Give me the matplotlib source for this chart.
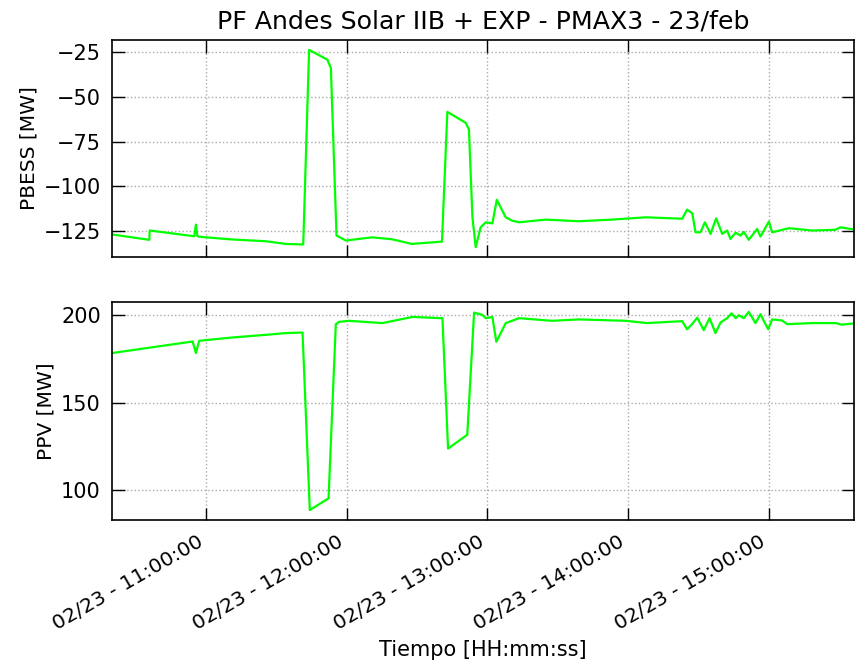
import numpy as np
import pandas as pd
import matplotlib
matplotlib.use("Agg")
import matplotlib.pyplot as plt
import matplotlib.dates as mdates

day = "2023-02-23 "

# PBESS [MW]
t_bess = ["10:19:48", "10:35:42", "10:35:54", "10:54:54", "10:55:36", "10:56:12", "10:57:00",
          "11:11:06", "11:25:30", "11:34:00", "11:41:24", "11:43:54", "11:51:42", "11:53:12",
          "11:55:36", "11:59:36", "12:10:48", "12:19:18", "12:27:48", "12:40:36", "12:42:54",
          "12:50:42", "12:52:06", "12:53:36", "12:55:00", "12:57:06", "12:59:18", "13:02:06",
          "13:04:00", "13:07:48", "13:10:36", "13:13:30", "13:24:48", "13:39:00", "13:53:06",
          "14:07:30", "14:23:06", "14:25:12", "14:27:24", "14:28:48", "14:30:54", "14:32:48",
          "14:35:12", "14:37:36", "14:40:12", "14:42:18", "14:43:42", "14:45:54", "14:48:00",
          "14:49:24", "14:51:30", "14:55:06", "14:56:30", "15:00:06", "15:01:30", "15:08:36",
          "15:18:30", "15:28:30", "15:30:36", "15:36:18"]
pbess = [-127.0, -130.0, -124.8, -128.0, -121.5, -127.8, -128.3,
         -129.8, -130.8, -132.3, -132.6, -23.7, -29.2, -33.9,
         -127.6, -130.4, -128.6, -129.7, -132.3, -131.0, -58.4,
         -64.5, -68.2, -117.4, -134.1, -123.0, -120.2, -120.8,
         -107.6, -117.4, -119.3, -120.2, -118.7, -119.6, -118.7,
         -117.4, -118.2, -113.1, -115.2, -125.8, -125.8, -120.2,
         -126.7, -118.0, -126.7, -124.8, -129.5, -126.0, -127.6,
         -125.6, -130.0, -123.9, -128.2, -119.8, -125.8, -123.5,
         -124.8, -124.4, -123.0, -124.2]

# PPV [MW]
t_pv = ["10:19:48", "10:54:12", "10:55:36", "10:57:00", "11:11:12", "11:25:30", "11:34:00",
        "11:41:06", "11:44:12", "11:52:12", "11:55:18", "11:56:42", "12:01:00", "12:15:12",
        "12:28:00", "12:40:48", "12:43:12", "12:51:24", "12:54:18", "12:57:48", "12:59:18",
        "13:02:06", "13:03:48", "13:07:48", "13:13:30", "13:27:42", "13:39:00", "13:59:00",
        "14:08:12", "14:20:18", "14:23:06", "14:25:12", "14:27:24", "14:29:30", "14:32:18",
        "14:34:48", "14:37:18", "14:39:30", "14:42:18", "14:44:12", "14:45:54", "14:47:18",
        "14:49:24", "14:51:30", "14:54:24", "14:56:30", "14:57:54", "14:59:48", "15:01:30",
        "15:05:42", "15:07:54", "15:18:30", "15:28:30", "15:31:18", "15:36:18"]
ppv = [178.4, 185.0, 178.4, 185.4, 187.3, 188.8, 189.8,
       190.1, 88.8, 95.5, 194.9, 196.2, 196.8, 195.5,
       199.0, 198.3, 123.9, 131.8, 201.5, 200.2, 198.3,
       199.0, 184.8, 195.5, 198.3, 196.8, 197.6, 196.8,
       195.5, 196.4, 196.6, 192.0, 195.0, 198.6, 191.5,
       198.3, 189.8, 195.9, 198.3, 201.1, 198.3, 200.0,
       198.3, 201.9, 195.5, 200.6, 196.8, 192.0, 197.6,
       197.0, 194.9, 195.5, 195.5, 194.6, 195.3]

tb = pd.to_datetime([day + s for s in t_bess])
tp = pd.to_datetime([day + s for s in t_pv])

fig = plt.figure(figsize=(8.55, 6.7), dpi=100)
ax1 = fig.add_axes([0.131, 0.6164, 0.8675, 0.3239])
ax2 = fig.add_axes([0.131, 0.2239, 0.8675, 0.3254], sharex=ax1)

col = "#00ff00"
ax1.plot(tb, pbess, color=col, lw=1.6)
ax2.plot(tp, ppv, color=col, lw=1.6)

for ax in (ax1, ax2):
    ax.grid(True, ls=":", color="#aaaaaa", lw=1.0)
    ax.tick_params(direction="in", top=True, right=True, length=9, width=1.0)
    ax.tick_params(axis="y", labelsize=15, pad=8)
    for sp in ax.spines.values():
        sp.set_linewidth(1.2)

ax2.tick_params(axis="x", labelsize=14.7, pad=9)

ax1.set_xlim(tb[0], tb[-1])
ax1.xaxis.set_major_locator(mdates.HourLocator())
ax1.xaxis.set_major_formatter(mdates.DateFormatter("%m/%d - %H:%M:%S"))
plt.setp(ax1.get_xticklabels(), visible=False)
plt.setp(ax2.get_xticklabels(), rotation=30, ha="right")

ax1.set_yticks([-125, -100, -75, -50, -25])
ax2.set_yticks([100, 150, 200])

ax1.set_ylabel("PBESS [MW]", fontsize=14.5)
ax2.set_ylabel("PPV [MW]", fontsize=14.5)
ax2.set_xlabel("Tiempo [HH:mm:ss]", fontsize=15)
ax1.set_title("PF Andes Solar IIB + EXP - PMAX3 - 23/feb", fontsize=18.2, pad=8)

fig.savefig("out.png", dpi=100)
